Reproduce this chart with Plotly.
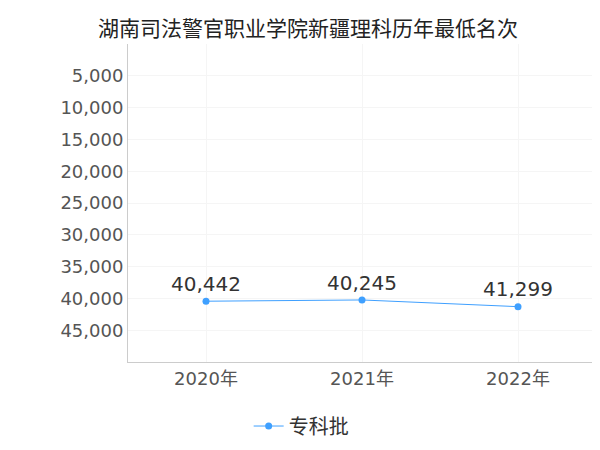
import plotly.graph_objects as go

years = ["2020年", "2021年", "2022年"]
ranks = [40442, 40245, 41299]
labels = ["40,442", "40,245", "41,299"]

fig = go.Figure()
fig.add_trace(go.Scatter(
    x=years, y=ranks, name="专科批", mode="lines+markers+text",
    text=labels, textposition="top center",
    textfont=dict(size=20, color="#333"),
    line=dict(color="#3fa0ff", width=1), marker=dict(size=7, color="#3fa0ff"),
))
fig.update_layout(
    width=600, height=450, plot_bgcolor="white", paper_bgcolor="white",
    font=dict(family="DejaVu Sans, Noto Sans CJK SC", color="#555"),
    title=dict(text="湖南司法警官职业学院新疆理科历年最低名次", x=0.5, y=0.97,
               font=dict(size=21, color="#222", family="Noto Sans CJK SC")),
    margin=dict(l=120, r=12, t=36, b=80),
    showlegend=True,
    legend=dict(orientation="h", x=0.37, xanchor="center", y=-0.14,
                font=dict(size=20, color="#333", family="Noto Sans CJK SC")),
    xaxis=dict(showline=True, linecolor="#ccc", showgrid=True, gridcolor="#f5f5f5",
               tickfont=dict(size=18), range=[-0.5, 2.5], ticks=""),
    yaxis=dict(range=[50000, 0], tickvals=[5000*i for i in range(1, 10)], tickformat=",",
               showline=True, linecolor="#ccc", showgrid=True, gridcolor="#f5f5f5",
               tickfont=dict(size=18), zeroline=False),
)
fig.write_html("out.html")
